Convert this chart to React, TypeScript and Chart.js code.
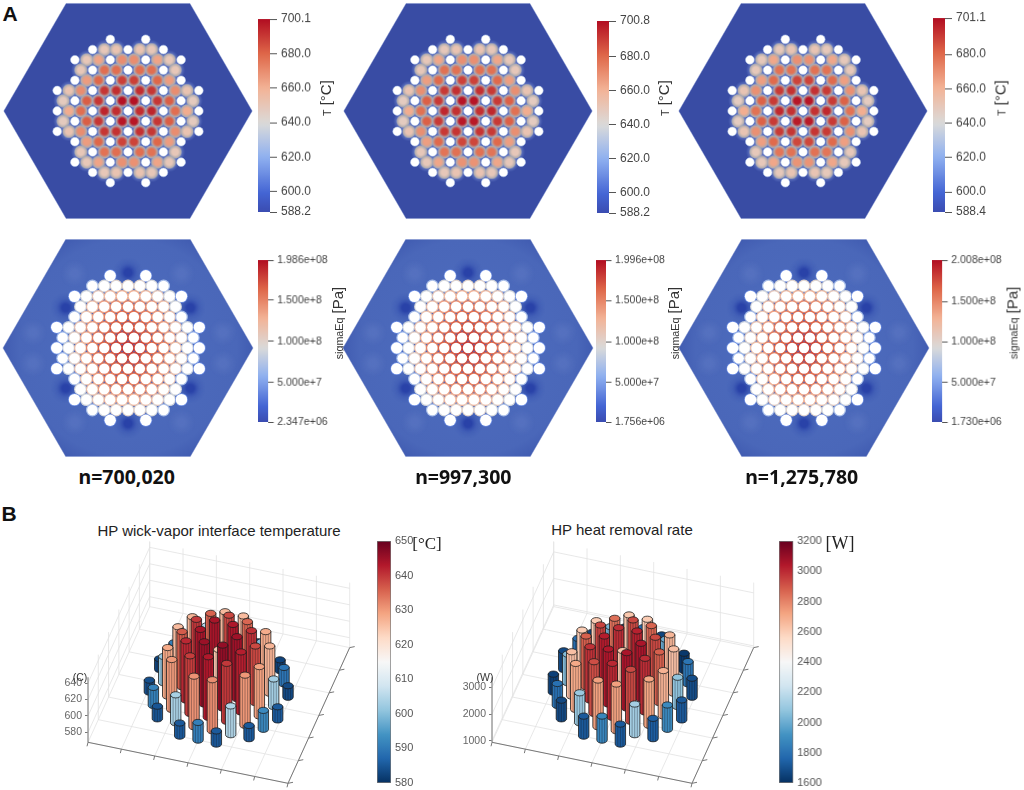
import React, { useEffect, useRef } from "react";
import { Chart, registerables } from "chart.js";

Chart.register(...registerables);

// ---- lattice of the core, rows from top (r = 7) to bottom (r = -7)
const pinRows = [7, 6, 5, 4, 3, 2, 1, 0, -1, -2, -3, -4, -5, -6, -7];

const pipeQ = [
  [-3, 3],
  [-6, 0, 6],
  [-9, -3, 3, 9],
  [-6, 0, 6],
  [-9, -3, 3, 9],
  [-12, -6, 0, 6, 12],
  [-9, -3, 3, 9],
  [-12, -6, 0, 6, 12],
  [-9, -3, 3, 9],
  [-12, -6, 0, 6, 12],
  [-9, -3, 3, 9],
  [-6, 0, 6],
  [-9, -3, 3, 9],
  [-6, 0, 6],
  [-3, 3],
];

const fuelQ = [
  [],
  [-4, -2, 2, 4],
  [-7, -5, -1, 1, 5, 7],
  [-8, -4, -2, 2, 4, 8],
  [-7, -5, -1, 1, 5, 7],
  [-10, -8, -4, -2, 2, 4, 8, 10],
  [-11, -7, -5, -1, 1, 5, 7, 11],
  [-10, -8, -4, -2, 2, 4, 8, 10],
  [-11, -7, -5, -1, 1, 5, 7, 11],
  [-10, -8, -4, -2, 2, 4, 8, 10],
  [-7, -5, -1, 1, 5, 7],
  [-8, -4, -2, 2, 4, 8],
  [-7, -5, -1, 1, 5, 7],
  [-4, -2, 2, 4],
  [],
];

const fuelTemps = [
  [],
  [650, 652, 652, 650],
  [650, 664, 670, 670, 664, 650],
  [650, 678, 678, 678, 678, 650],
  [666, 680, 689, 689, 680, 666],
  [652, 670, 691, 693, 693, 691, 670, 652],
  [648, 682, 691, 699, 699, 691, 682, 648],
  [662, 678, 695, 693, 693, 695, 678, 662],
  [648, 682, 691, 698, 698, 691, 682, 648],
  [652, 670, 691, 692, 692, 691, 670, 652],
  [666, 680, 688, 688, 680, 666],
  [650, 677, 678, 678, 677, 650],
  [650, 664, 669, 669, 664, 650],
  [650, 652, 652, 650],
  [],
];

// stress in the ligaments around every pin, MPa
const webStress = [
  [40, 40],
  [70, 90, 100, 100, 100, 90, 70],
  [45, 90, 110, 122, 128, 128, 122, 110, 90, 45],
  [90, 120, 138, 145, 150, 145, 138, 120, 90],
  [70, 115, 138, 150, 160, 160, 150, 138, 115, 70],
  [40, 85, 115, 138, 155, 165, 170, 165, 155, 138, 115, 85, 40],
  [65, 105, 132, 155, 165, 176, 176, 165, 155, 132, 105, 65],
  [45, 90, 120, 150, 165, 176, 182, 176, 165, 150, 120, 90, 45],
  [65, 105, 132, 155, 165, 176, 176, 165, 155, 132, 105, 65],
  [40, 85, 115, 138, 155, 165, 170, 165, 155, 138, 115, 85, 40],
  [70, 115, 138, 150, 160, 160, 150, 138, 115, 70],
  [90, 120, 138, 145, 150, 145, 138, 120, 90],
  [45, 90, 110, 122, 128, 128, 122, 110, 90, 45],
  [70, 90, 100, 100, 100, 90, 70],
  [40, 40],
];

const hexQ = [-21.05, -10.5, 10.5, 21.05, 10.5, -10.5, -21.05];
const hexR = [0, 10.5, 10.5, 0, -10.5, -10.5, 0];

// soft patches in the block around the pins
const fieldQ = [0, 0, -10.5, 10.5, -10.5, 10.5, -9, 9, -9, 9, -16, 16, -16, 16];
const fieldR = [7.3, -7.3, 3.9, 3.9, -3.9, -3.9, 7.2, 7.2, -7.2, -7.2, 1.5, 1.5, -1.5, -1.5];
const fieldStress = [3, 3, 3, 3, 3, 3, 62, 62, 62, 62, 58, 58, 58, 58];

// ---- colour bars of panel A
const tempTicks = [
  [588.2, 600, 620, 640, 660, 680, 700.1],
  [588.2, 600, 620, 640, 660, 680, 700.8],
  [588.4, 600, 620, 640, 660, 680, 701.1],
];
const stressTicks = [
  [2.347e6, 5e7, 1e8, 1.5e8, 1.986e8],
  [1.756e6, 5e7, 1e8, 1.5e8, 1.996e8],
  [1.73e6, 5e7, 1e8, 1.5e8, 2.008e8],
];
const stressLabels = [
  ["2.347e+06", "5.000e+7", "1.000e+8", "1.500e+8", "1.986e+08"],
  ["1.756e+06", "5.000e+7", "1.000e+8", "1.500e+8", "1.996e+08"],
  ["1.730e+06", "5.000e+7", "1.000e+8", "1.500e+8", "2.008e+08"],
];
const meshLabels = ["n=700,020", "n=997,300", "n=1,275,780"];

// ---- heat pipes of panel B: lattice column, lattice row, values
const hpCol = [-1, 1, -2, 0, 2, -3, -1, 1, 3, -2, 0, 2, -3, -1, 1, 3, -4, -2, 0, 2, 4, -3, -1, 1, 3, -4, -2, 0, 2, 4, -3, -1, 1, 3, -4, -2, 0, 2, 4, -3, -1, 1, 3, -2, 0, 2, -3, -1, 1, 3, -2, 0, 2, -1, 1];
const hpRow = [-7, -7, -6, -6, -6, -5, -5, -5, -5, -4, -4, -4, -3, -3, -3, -3, -2, -2, -2, -2, -2, -1, -1, -1, -1, 0, 0, 0, 0, 0, 1, 1, 1, 1, 2, 2, 2, 2, 2, 3, 3, 3, 3, 4, 4, 4, 5, 5, 5, 5, 6, 6, 6, 7, 7];
const hpTemp = [584, 584, 589.5, 603, 591, 584, 630, 629, 584, 629.5, 638.5, 628, 602, 641.7, 641, 601.6, 583.4, 638, 644.5, 636.8, 582, 628.7, 643.7, 643.3, 625.5, 590, 640, 623, 639.3, 588, 627, 642.5, 642, 626.7, 582.6, 635, 642.5, 634, 581, 600, 638.5, 637, 598, 624.7, 634.4, 624.7, 581, 625.5, 625, 582, 589, 603, 590, 584, 584];
const hpPower = [1692, 1704, 1843, 2094, 1855, 1692, 2698, 2685, 1692, 2698, 2900, 2648, 2069, 2975, 2962, 2044, 1641, 2887, 3025, 2849, 1654, 2673, 3012, 3025, 2610, 1767, 2950, 2600, 2900, 1780, 2610, 3000, 2987, 2635, 1616, 2849, 2962, 2836, 1591, 2019, 2912, 2900, 1968, 2572, 2811, 2572, 1641, 2572, 2585, 1629, 1755, 1994, 1755, 1629, 1629];

const tempBarTicks = [580, 590, 600, 610, 620, 630, 640, 650];
const powerBarTicks = [1600, 1800, 2000, 2200, 2400, 2600, 2800, 3000, 3200];

const coolWarm = ["#3a4bb0", "#4465d4", "#8fb0f0", "#dadada", "#f3b497", "#df6749", "#b20d22"];
const coolWarmAt = [0, 0.1, 0.285, 0.46, 0.64, 0.82, 1];
const rdBu = ["#053061", "#2166ac", "#4393c3", "#92c5de", "#d1e5f0", "#f7f7f7", "#fddbc7", "#f4a582", "#d6604d", "#b2182b", "#67001f"];

const rgb = (hex: string) => [1, 3, 5].map((i) => parseInt(hex.slice(i, i + 2), 16));

function sample(colors: string[], stops: number[], f: number) {
  const t = Math.min(1, Math.max(0, f));
  let i = 0;
  while (i < stops.length - 2 && t > stops[i + 1]) i++;
  const k = (t - stops[i]) / (stops[i + 1] - stops[i]);
  const a = rgb(colors[i]);
  const b = rgb(colors[i + 1]);
  return `rgb(${a.map((v, j) => Math.round(v + (b[j] - v) * k)).join(",")})`;
}

const rdBuAt = rdBu.map((_, i) => i / 10);

// blurred disc used as a point style
function glow(radius: number, inner: string, mid: string, edge: string, midAt = 0.8, holdAt = 0.25) {
  const c = document.createElement("canvas");
  c.width = c.height = radius * 2;
  const g = c.getContext("2d")!;
  const grad = g.createRadialGradient(radius, radius, 0, radius, radius, radius);
  grad.addColorStop(0, inner);
  grad.addColorStop(holdAt, inner);
  grad.addColorStop(midAt, mid);
  grad.addColorStop(1, edge);
  g.fillStyle = grad;
  g.fillRect(0, 0, radius * 2, radius * 2);
  return c;
}

const flatPoints = (rowsQ: number[][]) =>
  pinRows.flatMap((r, i) => rowsQ[i].map((q) => ({ x: q, y: r })));

const allPinQ = pinRows.map((_, i) => [...pipeQ[i], ...fuelQ[i]].sort((a, b) => a - b));
const hexPoints = hexQ.map((q, i) => ({ x: q, y: hexR[i] }));

function useChart(build: (canvas: HTMLCanvasElement) => any) {
  const ref = useRef<HTMLCanvasElement | null>(null);
  useEffect(() => {
    if (!ref.current) return;
    const chart = new Chart(ref.current, build(ref.current));
    return () => chart.destroy();
  }, []);
  return ref;
}

const hiddenScale = (min: number, max: number) => ({
  type: "linear" as const,
  display: false,
  min,
  max,
});

const baseOptions = {
  responsive: false,
  animation: false as const,
  devicePixelRatio: 1,
  events: [] as any[],
  plugins: { legend: { display: false }, tooltip: { enabled: false } },
};

const spot = (style: any, points: any[], radius: number, extra = {}) => ({
  type: "scatter" as const,
  data: points,
  pointStyle: style,
  pointRadius: radius,
  pointBorderWidth: 0,
  pointBackgroundColor: "#ffffff",
  clip: false,
  ...extra,
});

function hexDataset(fill: any) {
  return {
    type: "scatter" as const,
    data: hexPoints,
    showLine: true,
    fill: "shape",
    backgroundColor: fill,
    borderColor: "rgba(120,140,205,0.7)",
    borderWidth: 0.6,
    pointRadius: 0,
    clip: false,
  };
}

const HexCanvas: React.FC<{ cx: number; cy: number; pitchQ: number; pitchR: number; build: () => any[] }> = ({
  cx,
  cy,
  pitchQ,
  pitchR,
  build,
}) => {
  const ref = useChart(() => ({
    type: "scatter",
    // chart.js paints the first dataset last
    data: { datasets: build().reverse() },
    options: {
      ...baseOptions,
      layout: { padding: 0, autoPadding: false },
      scales: {
        x: hiddenScale(-130 / pitchQ, 130 / pitchQ),
        y: hiddenScale(-115 / pitchR, 115 / pitchR),
      },
    },
  }));
  return (
    <canvas
      ref={ref}
      width={260}
      height={230}
      style={{ position: "absolute", left: cx - 130, top: cy - 115, width: 260, height: 230 }}
    />
  );
};

function tempDatasets(min: number, max: number) {
  const fuel = flatPoints(fuelQ);
  const temps = fuelTemps.flat();
  const styles = temps.map((t) =>
    glow(7, sample(coolWarm, coolWarmAt, (t - min) / (max - min)), "#b0acae", "rgba(150,160,195,0)", 0.84, 0.45)
  );
  return [
    hexDataset("#394ca4"),
    spot(glow(10, "rgba(150,165,212,0.9)", "rgba(120,140,208,0.4)", "rgba(100,125,200,0)", 0.75), fuel, 10),
    spot((c: any) => styles[c.dataIndex] ?? "circle", fuel, 7),
    spot("circle", flatPoints(pipeQ), 4.4, {
      pointBorderWidth: 0.8,
      pointBorderColor: "rgba(175,195,235,0.7)",
    }),
  ];
}

function stressDatasets(min: number, max: number) {
  const pins = flatPoints(allPinQ);
  const stress = webStress.flat();
  const field = fieldQ.map((q, i) => ({ x: q, y: fieldR[i] }));
  const fieldStyles = fieldStress.map((s) =>
    s < 10
      ? glow(15, "rgba(36,60,165,0.85)", "rgba(50,78,175,0.35)", "rgba(60,90,180,0)", 0.6)
      : glow(14, "rgba(110,135,205,0.3)", "rgba(105,130,200,0.12)", "rgba(100,125,200,0)", 0.7)
  );
  return [
    hexDataset((c: any) => {
      const g = c.chart.ctx.createRadialGradient(130, 115, 50, 130, 115, 128);
      g.addColorStop(0, "#4c6abc");
      g.addColorStop(0.75, "#4a67b9");
      g.addColorStop(1, "#3f5ab0");
      return g;
    }),
    spot((c: any) => fieldStyles[c.dataIndex] ?? "circle", field, 15),
    spot("circle", pins, 6.4, {
      pointBackgroundColor: stress.map((s) =>
        sample(coolWarm, coolWarmAt, (s * 1e6 - min) / (max - min))
      ),
    }),
    spot("circle", pins, 5.2, {
      pointRadius: stress.map((s) => (s <= 45 ? 5.7 : 5.2)),
    }),
  ];
}

const ColorBar: React.FC<{
  x0: number;
  x1: number;
  y0: number;
  y1: number;
  ticks: number[];
  labels: string[];
  colors: string[];
  stops: number[];
  font: number;
  tickLength: number;
  padding: number;
  color: string;
  outline?: boolean;
}> = ({ x0, x1, y0, y1, ticks, labels, colors, stops, font, tickLength, padding, color, outline }) => {
  const pad = 10;
  const axisW = 80;
  const w = x1 - x0 + axisW;
  const h = y1 - y0 + pad * 2;
  const min = ticks[0];
  const max = ticks[ticks.length - 1];
  const ref = useChart(() => ({
    type: "bar",
    data: {
      labels: [""],
      datasets: [
        {
          data: [[min, max]],
          barPercentage: 1,
          categoryPercentage: 1,
          borderSkipped: false,
          borderWidth: outline ? 1 : 0,
          borderColor: "#777777",
          backgroundColor: (c: any) => {
            const g = c.chart.ctx.createLinearGradient(0, h - pad, 0, pad);
            for (let i = 0; i <= 40; i++) g.addColorStop(i / 40, sample(colors, stops, i / 40));
            return g;
          },
        },
      ],
    },
    options: {
      ...baseOptions,
      layout: { padding: { top: pad, bottom: pad }, autoPadding: false },
      scales: {
        x: { display: false },
        y: {
          position: "right",
          min,
          max,
          afterFit: (axis: any) => {
            axis.width = axisW;
            axis.paddingTop = 0;
            axis.paddingBottom = 0;
          },
          afterBuildTicks: (axis: any) => {
            axis.ticks = ticks.map((value) => ({ value }));
          },
          border: { display: false },
          grid: {
            drawOnChartArea: false,
            drawTicks: tickLength > 0,
            tickLength,
            tickColor: "#555555",
          },
          ticks: {
            autoSkip: false,
            maxRotation: 0,
            padding,
            color,
            font: { family: "'Liberation Sans'", size: font },
            callback: (_: any, i: number) => labels[i],
          },
        },
      },
    },
  }));
  return (
    <canvas
      ref={ref}
      width={w}
      height={h}
      style={{ position: "absolute", left: x0, top: y0 - pad, width: w, height: h }}
    />
  );
};

// round columns, painted over the grid from the two points of every dataset
const cylinderPlugin = {
  id: "cylinders",
  afterDatasetsDraw(chart: any) {
    const ctx = chart.ctx;
    const rx = 5.2;
    const ry = 3.1;
    chart.data.datasets.forEach((ds: any, i: number) => {
      if (!ds.isColumn) return;
      const [base, top] = chart.getDatasetMeta(i).data;
      ctx.save();
      ctx.lineWidth = 0.8;
      ctx.strokeStyle = "#1d1d1d";
      ctx.fillStyle = ds.backgroundColor;
      ctx.beginPath();
      ctx.moveTo(top.x - rx, top.y);
      ctx.lineTo(base.x - rx, base.y);
      ctx.ellipse(base.x, base.y, rx, ry, 0, Math.PI, 0, true);
      ctx.lineTo(top.x + rx, top.y);
      ctx.closePath();
      ctx.fill();
      ctx.stroke();
      ctx.lineWidth = 0.7;
      ctx.strokeStyle = "rgba(20,20,30,0.5)";
      [-2.6, 0, 2.6].forEach((dx) => {
        const sag = ry * Math.sqrt(1 - (dx * dx) / (rx * rx));
        ctx.beginPath();
        ctx.moveTo(top.x + dx, top.y + sag);
        ctx.lineTo(base.x + dx, base.y + sag);
        ctx.stroke();
      });
      ctx.lineWidth = 0.8;
      ctx.strokeStyle = "#1d1d1d";
      ctx.beginPath();
      ctx.ellipse(top.x, top.y, rx, ry, 0, 0, Math.PI * 2);
      ctx.fill();
      ctx.stroke();
      ctx.restore();
    });
  },
};

const Columns3D: React.FC<{
  left: number;
  values: number[];
  zMin: number;
  perPx: number;
  zTicks: number[];
  barMin: number;
  barMax: number;
}> = ({ left, values, zMin, perPx, zTicks, barMin, barMax }) => {
  const ref = useChart(() => {
    const floorY = 742.3 - 520;
    const areaW = 272;
    const floor = (u: number, v: number, level: number) => ({
      x: 200 * u + 61.7 * v,
      y: level - (41 * u - 135.7 * v) * perPx,
    });
    const gap = { x: NaN, y: NaN };
    const zTop = zMin + 65 * perPx;
    const grid: any[] = [];
    for (let i = 0; i <= 6; i++) {
      grid.push(floor(i / 6, 0, zMin), floor(i / 6, 1, zMin), gap);
      grid.push(floor(0, i / 6, zMin), floor(1, i / 6, zMin), gap);
      grid.push(floor(i / 6, 1, zMin), floor(i / 6, 1, zTop), gap);
      grid.push(floor(0, i / 6, zMin), floor(0, i / 6, zTop), gap);
    }
    zTicks.forEach((z) => {
      grid.push(floor(0, 0, z), floor(0, 1, z), floor(1, 1, z), gap);
    });
    const axes: any[] = [
      floor(0, 0, zMin),
      floor(1, 0, zMin),
      floor(1, 1, zMin),
      gap,
      floor(0, 0, zMin),
      floor(0, 0, zTop),
      gap,
    ];
    for (let i = 0; i <= 6; i++) {
      const a = floor(i / 6, 0, zMin);
      axes.push(a, { x: a.x - 1, y: a.y - 4 * perPx }, gap);
      const b = floor(1, i / 6, zMin);
      axes.push(b, { x: b.x + 5, y: b.y + 1 * perPx }, gap);
    }
    const line = (data: any[], color: string, width: number) => ({
      type: "scatter" as const,
      data,
      showLine: true,
      spanGaps: false,
      borderColor: color,
      borderWidth: width,
      pointRadius: 0,
      clip: false,
    });
    const order = hpCol
      .map((_, i) => i)
      .sort((a, b) => -2.7 * hpCol[a] - 6.67 * hpRow[a] - (-2.7 * hpCol[b] - 6.67 * hpRow[b]));
    const columns = order.map((i) => {
      const x = 130.7 + 16.33 * hpCol[i] - 2 * hpRow[i];
      const y = zMin + (742.3 - (694.7 - 2.7 * hpCol[i] - 6.67 * hpRow[i])) * perPx;
      return {
        type: "scatter" as const,
        isColumn: true,
        backgroundColor: sample(rdBu, rdBuAt, (values[i] - barMin) / (barMax - barMin) + 0.02),
        pointRadius: 0,
        data: [
          { x, y },
          { x, y: y + values[i] - zMin },
        ],
      };
    });
    return {
      type: "scatter",
      data: { datasets: [line(axes, "#777777", 1), line(grid, "#e2e2e2", 0.8), ...columns] },
      plugins: [cylinderPlugin],
      options: {
        ...baseOptions,
        layout: { padding: 0, autoPadding: false },
        scales: {
          x: hiddenScale(0, areaW),
          y: {
            min: zMin - (270 - floorY) * perPx,
            max: zMin + floorY * perPx,
            afterFit: (axis: any) => {
              axis.width = 88;
              axis.paddingTop = 0;
              axis.paddingBottom = 0;
            },
            afterBuildTicks: (axis: any) => {
              axis.ticks = zTicks.map((value) => ({ value }));
            },
            border: { display: false },
            grid: { drawOnChartArea: false, tickLength: 3, tickColor: "#777777" },
            ticks: {
              autoSkip: false,
              padding: 3,
              color: "#666666",
              font: { family: "'Liberation Sans'", size: 10.5 },
              callback: (v: any) => String(v),
            },
          },
        },
      },
    };
  });
  return (
    <canvas
      ref={ref}
      width={360}
      height={270}
      style={{ position: "absolute", left, top: 520, width: 360, height: 270 }}
    />
  );
};

const Text: React.FC<{
  x: number;
  y: number;
  size: number;
  color?: string;
  bold?: boolean;
  family?: string;
  rotate?: boolean;
  children: React.ReactNode;
}> = ({ x, y, size, color = "#222222", bold, family = "'Liberation Sans'", rotate, children }) => (
  <span
    style={{
      position: "absolute",
      left: x,
      top: y,
      fontSize: size,
      color,
      fontFamily: family,
      fontWeight: bold ? 700 : 400,
      whiteSpace: "nowrap",
      lineHeight: 1,
      transform: `translate(-50%,-50%)${rotate ? " rotate(-90deg)" : ""}`,
    }}
  >
    {children}
  </span>
);

const tempCenters = [128.3, 467.5, 803.3];
const tempBarX = [257.7, 596.7, 932.7];
const tempBarY = [19.3, 20.7, 18.3];
const tempBarEnd = [212, 213.3, 212];
const tempTitleX = [325, 663, 1000];
const stressCenters = [128.3, 468, 803.7];
const stressBarX = [258.3, 595.7, 932.3];
const stressTitleX = [336.7, 673, 1011.7];
const meshLabelX = [126.7, 463.3, 801.7];

const App: React.FC = () => (
  <div
    style={{
      position: "absolute",
      left: 0,
      top: 0,
      width: 1024,
      height: 790,
      background: "#ffffff",
      overflow: "hidden",
    }}
  >
    <Text x={10} y={13} size={21} bold color="#111111">A</Text>
    <Text x={9} y={513} size={21} bold color="#111111">B</Text>

    {tempCenters.map((cx, i) => {
      const t = tempTicks[i];
      return (
        <React.Fragment key={cx}>
          <HexCanvas
            cx={cx}
            cy={111}
            pitchQ={5.9}
            pitchR={10.24}
            build={() => tempDatasets(t[0], t[t.length - 1])}
          />
          <ColorBar
            x0={tempBarX[i]}
            x1={tempBarX[i] + 12}
            y0={tempBarY[i]}
            y1={tempBarEnd[i]}
            ticks={t}
            labels={t.map((v) => v.toFixed(1))}
            colors={coolWarm}
            stops={coolWarmAt}
            font={12}
            tickLength={7}
            padding={4}
            color="#444444"
          />
          <Text x={tempTitleX[i]} y={98} size={15} rotate color="#333333">
            <span style={{ fontSize: 10.5 }}>T</span> [°C]
          </Text>
        </React.Fragment>
      );
    })}

    {stressCenters.map((cx, i) => {
      const t = stressTicks[i];
      return (
        <React.Fragment key={cx}>
          <HexCanvas
            cx={cx}
            cy={348.3}
            pitchQ={5.94}
            pitchR={10.33}
            build={() => stressDatasets(t[0], t[t.length - 1])}
          />
          <ColorBar
            x0={stressBarX[i]}
            x1={stressBarX[i] + 10.5}
            y0={260}
            y1={421.7}
            ticks={t}
            labels={stressLabels[i]}
            colors={coolWarm}
            stops={coolWarmAt}
            font={10.5}
            tickLength={5.5}
            padding={3.5}
            color="#444444"
          />
          <Text x={stressTitleX[i]} y={323} size={15} rotate color="#333333">
            <span style={{ fontSize: 10.7 }}>sigmaEq</span> [Pa]
          </Text>
          <Text x={meshLabelX[i]} y={477} size={19.5} bold family="'Noto Sans'" color="#111111">
            {meshLabels[i]}
          </Text>
        </React.Fragment>
      );
    })}

    <Text x={219} y={530} size={15}>HP wick-vapor interface temperature</Text>
    <Text x={622} y={529} size={15}>HP heat removal rate</Text>

    <Columns3D
      left={0}
      values={hpTemp}
      zMin={568}
      perPx={1.215}
      zTicks={[580, 600, 620, 640]}
      barMin={580}
      barMax={650}
    />
    <Text x={80} y={677} size={10.5} color="#333333">(C)</Text>
    <ColorBar
      x0={376.7}
      x1={390.7}
      y0={540.7}
      y1={782.7}
      ticks={tempBarTicks}
      labels={tempBarTicks.map(String)}
      colors={rdBu}
      stops={rdBuAt}
      font={11}
      tickLength={0}
      padding={4}
      color="#555555"
      outline
    />
    <Text x={427} y={543} size={17} family="'Liberation Serif'">[°C]</Text>

    <Columns3D
      left={404}
      values={hpPower}
      zMin={937}
      perPx={37.7}
      zTicks={[1000, 2000, 3000]}
      barMin={1600}
      barMax={3200}
    />
    <Text x={485} y={677} size={10.5} color="#333333">(W)</Text>
    <ColorBar
      x0={779.3}
      x1={794}
      y0={540.7}
      y1={782.7}
      ticks={powerBarTicks}
      labels={powerBarTicks.map(String)}
      colors={rdBu}
      stops={rdBuAt}
      font={11}
      tickLength={0}
      padding={4}
      color="#555555"
      outline
    />
    <Text x={840} y={543} size={18} family="'Liberation Serif'">[W]</Text>
  </div>
);

export default App;
